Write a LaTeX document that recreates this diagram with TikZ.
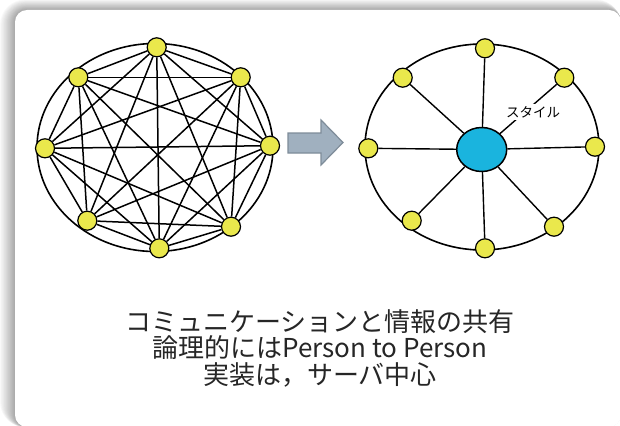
\documentclass[tikz,border=0pt]{standalone}
\usepackage{fontspec}
\newfontfamily\jp{Noto Sans CJK JP}
\usetikzlibrary{shapes.geometric}
\definecolor{nodeyellow}{HTML}{EAE84C}
\definecolor{hubblue}{HTML}{1AB4DE}
\definecolor{arrowfill}{HTML}{A0B0BF}
\definecolor{arrowdraw}{HTML}{7E8C99}
\tikzset{
 peer/.style={circle,draw=black,fill=nodeyellow,line width=1.2pt,minimum size=19pt,inner sep=0pt},
 link/.style={line width=1.5pt,black},
 spoke/.style={line width=1.4pt,black},
 ring/.style={ellipse,draw=black,line width=1.6pt,inner sep=0pt},
 hub/.style={ellipse,draw=black,fill=hubblue,line width=1.5pt,minimum width=50pt,minimum height=44pt,inner sep=0pt},
 caption/.style={font=\jp\fontsize{26}{26.5}\selectfont,align=center,text=black!85},
 tag/.style={fill=white,font=\jp\fontsize{13.5}{13.5}\selectfont,inner sep=2.5pt},
 blockarrow/.style={draw=arrowdraw,fill=arrowfill,line width=1.2pt,line join=miter},
}
\begin{document}
\begin{tikzpicture}[x=1pt,y=-1pt]
\useasboundingbox (0,0) rectangle (620,425);
% frame with soft shadow on top and left
\begin{scope}
\clip (0,0) rectangle (620,425);
\foreach \k in {13,...,1} {
  \pgfmathsetmacro\shade{2.5*(14-\k)}
  \pgfmathsetmacro\rad{12+\k}
  \fill[black!\shade, rounded corners=\rad pt] (15-1.15*\k, 10-0.8*\k) rectangle (621,427);
}
\fill[white, rounded corners=12pt] (15,10) rectangle (621,427);
\end{scope}

% left: fully connected
\node[ring, minimum width=236pt, minimum height=208pt] (ringL) at (155,147.5) {};
\node[peer] (a1) at (156.7,47.3) {};
\node[peer] (a2) at (240.7,77.3) {};
\node[peer] (a3) at (270,145.7) {};
\node[peer] (a4) at (231,226.7) {};
\node[peer] (a5) at (159.3,248.3) {};
\node[peer] (a6) at (87.3,220.7) {};
\node[peer] (a7) at (45,148.3) {};
\node[peer] (a8) at (78.3,77.3) {};
\foreach \i in {1,...,7} {
  \pgfmathtruncatemacro\s{\i+1}
  \foreach \j in {\s,...,8} \draw[link] (a\i) -- (a\j);
}

% arrow
\coordinate (t1) at (288,133);
\coordinate (t2) at (288,153);
\draw[blockarrow] (t1) -- (321,133) -- (321,120) -- (343,142.5) -- (321,165) -- (321,153) -- (t2) -- cycle;

% right: star
\node[ring, minimum width=234pt, minimum height=206pt] (ringR) at (482,147) {};
\node[peer] (b1) at (485,48.3) {};
\node[peer] (b2) at (564.3,77.7) {};
\node[peer] (b3) at (595,146.7) {};
\node[peer] (b4) at (554,226.7) {};
\node[peer] (b5) at (485,248.3) {};
\node[peer] (b6) at (411.7,220.7) {};
\node[peer] (b7) at (368.3,148.3) {};
\node[peer] (b8) at (402.7,77.7) {};
\node[hub] (hub) at (481.7,149.5) {};
\foreach \i in {1,...,8} \draw[spoke] (hub) -- (b\i);
\node[tag] (lbl) at (533,112) {スタイル};

% caption
\node[caption] (cap) at (320,348) {コミュニケーションと情報の共有\\論理的にはPerson to Person\\実装は，サーバ中心};
\end{tikzpicture}
\end{document}
